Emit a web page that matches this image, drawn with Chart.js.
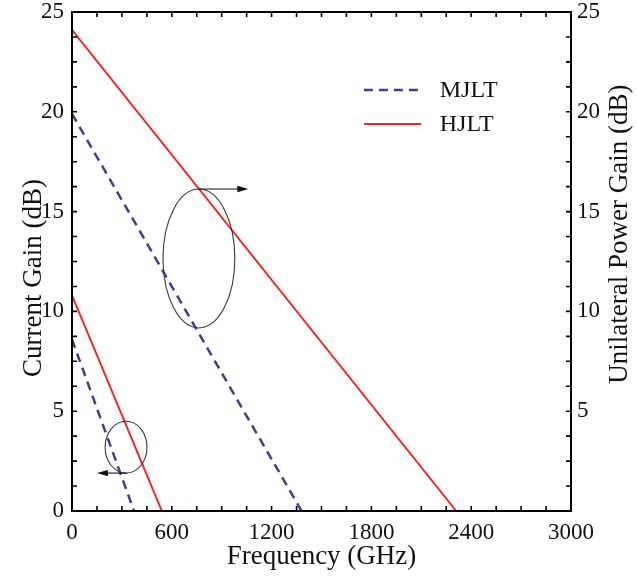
<!DOCTYPE html>
<html><head><meta charset="utf-8">
<script src="https://cdn.jsdelivr.net/npm/chart.js@4"></script>
<style>html,body{margin:0;padding:0;background:#fff}#wrap{width:637px;height:577px}</style>
</head><body><div id="wrap"><canvas id="c" width="637" height="577"></canvas></div>
<script>
// ---- data ----
const seriesNames = ['MJLT', 'HJLT'];
const freqMJLTcurrent = [0, 373];
const gainMJLTcurrent = [8.6, 0];
const freqHJLTcurrent = [0, 540];
const gainHJLTcurrent = [10.8, 0];
const freqMJLTpower = [0, 1380];
const gainMJLTpower = [19.9, 0];
const freqHJLTpower = [0, 2310];
const gainHJLTpower = [24.1, 0];
const xTickLabels = [0, 600, 1200, 1800, 2400, 3000];
const yLeftTickLabels = [0, 5, 10, 15, 20, 25];
const yRightTickLabels = [5, 10, 15, 20, 25];
const xTitle = 'Frequency (GHz)';
const yLeftTitle = 'Current Gain (dB)';
const yRightTitle = 'Unilateral Power Gain (dB)';

// ---- annotation shapes (data coordinates) ----
const ellipses = [
  {cx: 763, cy: 12.65, rx: 216, ry: 3.48, arrowFrom: 763, arrowTo: 1060, arrowY: 16.13},
  {cx: 325, cy: 3.2, rx: 126, ry: 1.3, arrowFrom: 330, arrowTo: 150, arrowY: 1.9}
];

const FONT = '"Liberation Serif", "Times New Roman", serif';
const RED = '#ee2b2b';
const BLUE = '#3d3d9a';

const pts = (xs, ys) => xs.map((x, i) => ({x: x, y: ys[i]}));

const datasets = [
  {label: seriesNames[0], data: pts(freqMJLTcurrent, gainMJLTcurrent), yAxisID: 'y', borderColor: BLUE, borderWidth: 2.5, borderDash: [9, 6]},
  {label: seriesNames[1], data: pts(freqHJLTcurrent, gainHJLTcurrent), yAxisID: 'y', borderColor: RED, borderWidth: 2},
  {label: seriesNames[0], data: pts(freqMJLTpower, gainMJLTpower), yAxisID: 'y2', borderColor: BLUE, borderWidth: 2.5, borderDash: [9, 6]},
  {label: seriesNames[1], data: pts(freqHJLTpower, gainHJLTpower), yAxisID: 'y2', borderColor: RED, borderWidth: 2}
].map(d => Object.assign({pointRadius: 0, fill: false, tension: 0}, d));

function vertText(ctx, text, x, y) {
  ctx.save();
  ctx.translate(x, y);
  ctx.rotate(-Math.PI / 2);
  ctx.font = '27px ' + FONT;
  ctx.fillStyle = '#111';
  ctx.textAlign = 'center';
  ctx.textBaseline = 'middle';
  ctx.fillText(text, 0, 0);
  ctx.restore();
}

const deco = {
  id: 'deco',
  afterDatasetsDraw(chart) {
    const ctx = chart.ctx, xs = chart.scales.x, ys = chart.scales.y;
    ctx.save();
    ellipses.forEach(e => {
      const cx = xs.getPixelForValue(e.cx), cy = ys.getPixelForValue(e.cy);
      const rx = Math.abs(xs.getPixelForValue(e.cx + e.rx) - cx);
      const ry = Math.abs(ys.getPixelForValue(e.cy + e.ry) - cy);
      ctx.beginPath();
      ctx.strokeStyle = '#3a3a3a';
      ctx.lineWidth = 1.1;
      ctx.ellipse(cx, cy, rx, ry, 0, 0, Math.PI * 2);
      ctx.stroke();
      const ax1 = xs.getPixelForValue(e.arrowFrom), ax2 = xs.getPixelForValue(e.arrowTo), ay = ys.getPixelForValue(e.arrowY);
      const dir = Math.sign(ax2 - ax1);
      ctx.beginPath();
      ctx.strokeStyle = '#111';
      ctx.lineWidth = 1.1;
      ctx.moveTo(ax1, ay); ctx.lineTo(ax2 - dir * 8, ay); ctx.stroke();
      ctx.beginPath();
      ctx.fillStyle = '#111';
      ctx.moveTo(ax2, ay); ctx.lineTo(ax2 - dir * 11, ay - 3.2); ctx.lineTo(ax2 - dir * 11, ay + 3.2); ctx.closePath(); ctx.fill();
    });
    const ca = chart.chartArea;
    const lx1 = ca.left + 0.585 * (ca.right - ca.left), lx2 = ca.left + 0.70 * (ca.right - ca.left);
    const tx = ca.left + 0.737 * (ca.right - ca.left);
    const rows = [{y: ca.top + 78, color: BLUE, dash: [9, 6], w: 2.5, text: seriesNames[0]},
                  {y: ca.top + 112, color: RED, dash: [], w: 2, text: seriesNames[1]}];
    ctx.font = '24px ' + FONT;
    ctx.textBaseline = 'middle';
    ctx.textAlign = 'left';
    rows.forEach(r => {
      ctx.beginPath();
      ctx.setLineDash(r.dash);
      ctx.strokeStyle = r.color; ctx.lineWidth = r.w;
      ctx.moveTo(lx1, r.y); ctx.lineTo(lx2, r.y); ctx.stroke();
      ctx.setLineDash([]);
      ctx.fillStyle = '#111';
      ctx.fillText(r.text, tx, r.y + 1);
    });
    ctx.restore();
  },
  afterDraw(chart) {
    const ctx = chart.ctx, ca = chart.chartArea;
    ctx.save();
    ctx.strokeStyle = '#000';
    ctx.lineWidth = 2;
    ctx.strokeRect(ca.left, ca.top, ca.right - ca.left, ca.bottom - ca.top);
    const TL = 5;
    ctx.lineWidth = 1.6;
    ctx.beginPath();
    chart.scales.x.ticks.forEach(t => {
      const px = chart.scales.x.getPixelForValue(t.value);
      if (px <= ca.left + 1 || px >= ca.right - 1) return;
      ctx.moveTo(px, ca.bottom); ctx.lineTo(px, ca.bottom - TL);
      ctx.moveTo(px, ca.top); ctx.lineTo(px, ca.top + TL);
    });
    chart.scales.y.ticks.forEach(t => {
      const py = chart.scales.y.getPixelForValue(t.value);
      if (py <= ca.top + 1 || py >= ca.bottom - 1) return;
      ctx.moveTo(ca.left, py); ctx.lineTo(ca.left + TL, py);
      ctx.moveTo(ca.right, py); ctx.lineTo(ca.right - TL, py);
    });
    ctx.stroke();
    ctx.restore();
    const h = ca.bottom - ca.top;
    vertText(ctx, yLeftTitle, 34, ca.top + 0.533 * h);
    vertText(ctx, yRightTitle, 620, ca.top + 0.445 * h);
  }
};

const tickFont = {family: FONT, size: 23};
const titleFont = {family: FONT, size: 27};
const fitY = w => s => { s.width = w; s.paddingTop = 0; s.paddingBottom = 0; };

new Chart(document.getElementById('c'), {
  type: 'line',
  data: {datasets: datasets},
  plugins: [deco],
  options: {
    responsive: false,
    devicePixelRatio: 1,
    animation: false,
    layout: {padding: {top: 12, left: 0, right: 0, bottom: 0}},
    plugins: {legend: {display: false}, tooltip: {enabled: false}},
    scales: {
      x: {
        type: 'linear', min: 0, max: 3000,
        grid: {display: false, drawTicks: false},
        border: {display: false},
        ticks: {stepSize: 150, autoSkip: false, maxRotation: 0, padding: 8, color: '#111', font: tickFont,
          callback: v => xTickLabels.includes(v) ? String(v) : ''},
        title: {display: true, text: xTitle, color: '#111', font: titleFont, padding: {top: 0, bottom: 4}},
        afterFit: s => { s.height = 66; s.paddingLeft = 0; s.paddingRight = 0; }
      },
      y: {
        type: 'linear', position: 'left', min: 0, max: 25,
        grid: {display: false, drawTicks: false},
        border: {display: false},
        ticks: {stepSize: 1.25, autoSkip: false, padding: 8, color: '#111', font: tickFont,
          callback: v => yLeftTickLabels.includes(v) ? String(v) : ''},
        afterFit: fitY(72)
      },
      y2: {
        type: 'linear', position: 'right', min: 0, max: 25,
        grid: {display: false, drawTicks: false},
        border: {display: false},
        ticks: {stepSize: 1.25, autoSkip: false, padding: 6, color: '#111', font: tickFont,
          callback: v => yRightTickLabels.includes(v) ? String(v) : ''},
        afterFit: fitY(66)
      }
    }
  }
});
</script>
</body></html>
